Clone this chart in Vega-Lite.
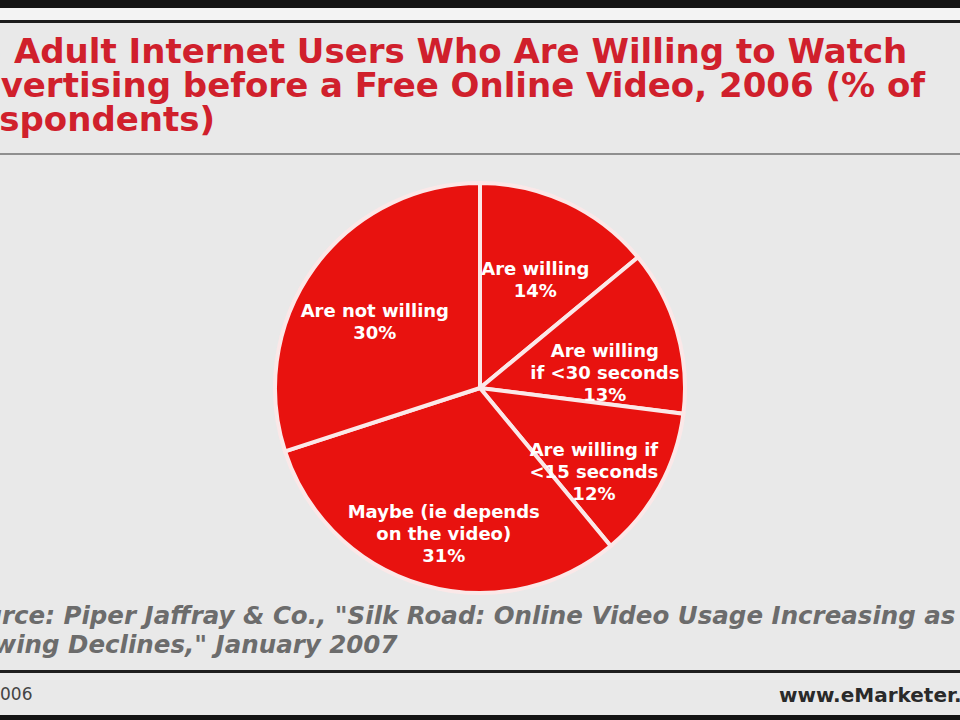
{
  "$schema": "https://vega.github.io/schema/vega-lite/v6.json",
  "background": "#e9e9e9",
  "padding": {"left": -50, "right": -48, "top": 0, "bottom": 0},
  "spacing": 0,
  "config": {"view": {"stroke": null}, "font": "DejaVu Sans"},
  "datasets": {
    "answers": [
      {"answer": "Are willing", "label": "Are willing\n14%", "pct": 14, "ord": 1},
      {"answer": "Are willing if <30 seconds", "label": "Are willing\nif <30 seconds\n13%", "pct": 13, "ord": 2},
      {"answer": "Are willing if <15 seconds", "label": "Are willing if\n<15 seconds\n12%", "pct": 12, "ord": 3},
      {"answer": "Maybe (ie depends on the video)", "label": "Maybe (ie depends\non the video)\n31%", "pct": 31, "ord": 4},
      {"answer": "Are not willing", "label": "Are not willing\n30%", "pct": 30, "ord": 5}
    ],
    "none": []
  },
  "vconcat": [
    {"data": {"name": "none"}, "mark": "rect", "width": 960, "height": 8, "view": {"fill": "#141414"}},
    {"data": {"name": "none"}, "mark": "rect", "width": 960, "height": 12, "view": {"fill": "#f3f3f3"}},
    {"data": {"name": "none"}, "mark": "rect", "width": 960, "height": 3, "view": {"fill": "#1c1c1c"}},
    {"data": {"name": "none"}, "mark": "rect", "width": 960, "height": 13},
    {
      "data": {"name": "none"},
      "mark": "rect",
      "width": 960,
      "height": 2,
      "view": {"fill": "#8f8f8f"},
      "title": {
        "text": [
          "US Adult Internet Users Who Are Willing to Watch",
          "Advertising before a Free Online Video, 2006 (% of",
          "Respondents)"
        ],
        "anchor": "start",
        "dx": -50,
        "offset": 15,
        "font": "DejaVu Sans",
        "fontSize": 34,
        "fontWeight": "bold",
        "lineHeight": 34,
        "color": "#d0202c"
      }
    },
    {
      "data": {"name": "answers"},
      "width": 960,
      "height": 466,
      "title": {
        "text": [
          "Source: Piper Jaffray & Co., \"Silk Road: Online Video Usage Increasing as",
          "Viewing Declines,\" January 2007"
        ],
        "orient": "bottom",
        "anchor": "start",
        "dx": -50,
        "offset": -16,
        "font": "DejaVu Sans",
        "fontSize": 24.5,
        "fontStyle": "italic",
        "fontWeight": "bold",
        "lineHeight": 29,
        "color": "#6c6c6c"
      },
      "encoding": {
        "theta": {"field": "pct", "type": "quantitative", "stack": true},
        "order": {"field": "ord", "type": "quantitative"}
      },
      "layer": [
        {
          "mark": {"type": "arc", "outerRadius": 205, "fill": "#e8120f", "stroke": "#fbe8e8", "strokeWidth": 4}
        },
        {
          "mark": {
            "type": "text",
            "radius": 130,
            "font": "DejaVu Sans",
            "fontSize": 18,
            "fontWeight": "bold",
            "fill": "#ffffff",
            "lineBreak": "\n",
            "lineHeight": 22
          },
          "encoding": {"text": {"field": "label"}}
        }
      ]
    },
    {"data": {"name": "none"}, "mark": "rect", "width": 960, "height": 12},
    {
      "hconcat": [
        {
          "data": {"name": "none"},
          "mark": "rect",
          "width": 480,
          "height": 3,
          "view": {"fill": "#1e1e1e"},
          "title": {"text": "006", "orient": "bottom", "anchor": "start", "offset": 14, "font": "DejaVu Sans", "fontSize": 17, "fontWeight": "normal", "color": "#444444"}
        },
        {
          "data": {"name": "none"},
          "mark": "rect",
          "width": 480,
          "height": 3,
          "view": {"fill": "#1e1e1e"},
          "title": {"text": "www.eMarketer.com", "orient": "bottom", "anchor": "end", "dx": 48, "offset": 13, "font": "DejaVu Sans", "fontSize": 20, "fontWeight": "bold", "color": "#2a2a2a"}
        }
      ],
      "spacing": 0,
      "bounds": "flush"
    },
    {"data": {"name": "none"}, "mark": "rect", "width": 960, "height": 9},
    {"data": {"name": "none"}, "mark": "rect", "width": 960, "height": 8, "view": {"fill": "#141414"}}
  ]
}
